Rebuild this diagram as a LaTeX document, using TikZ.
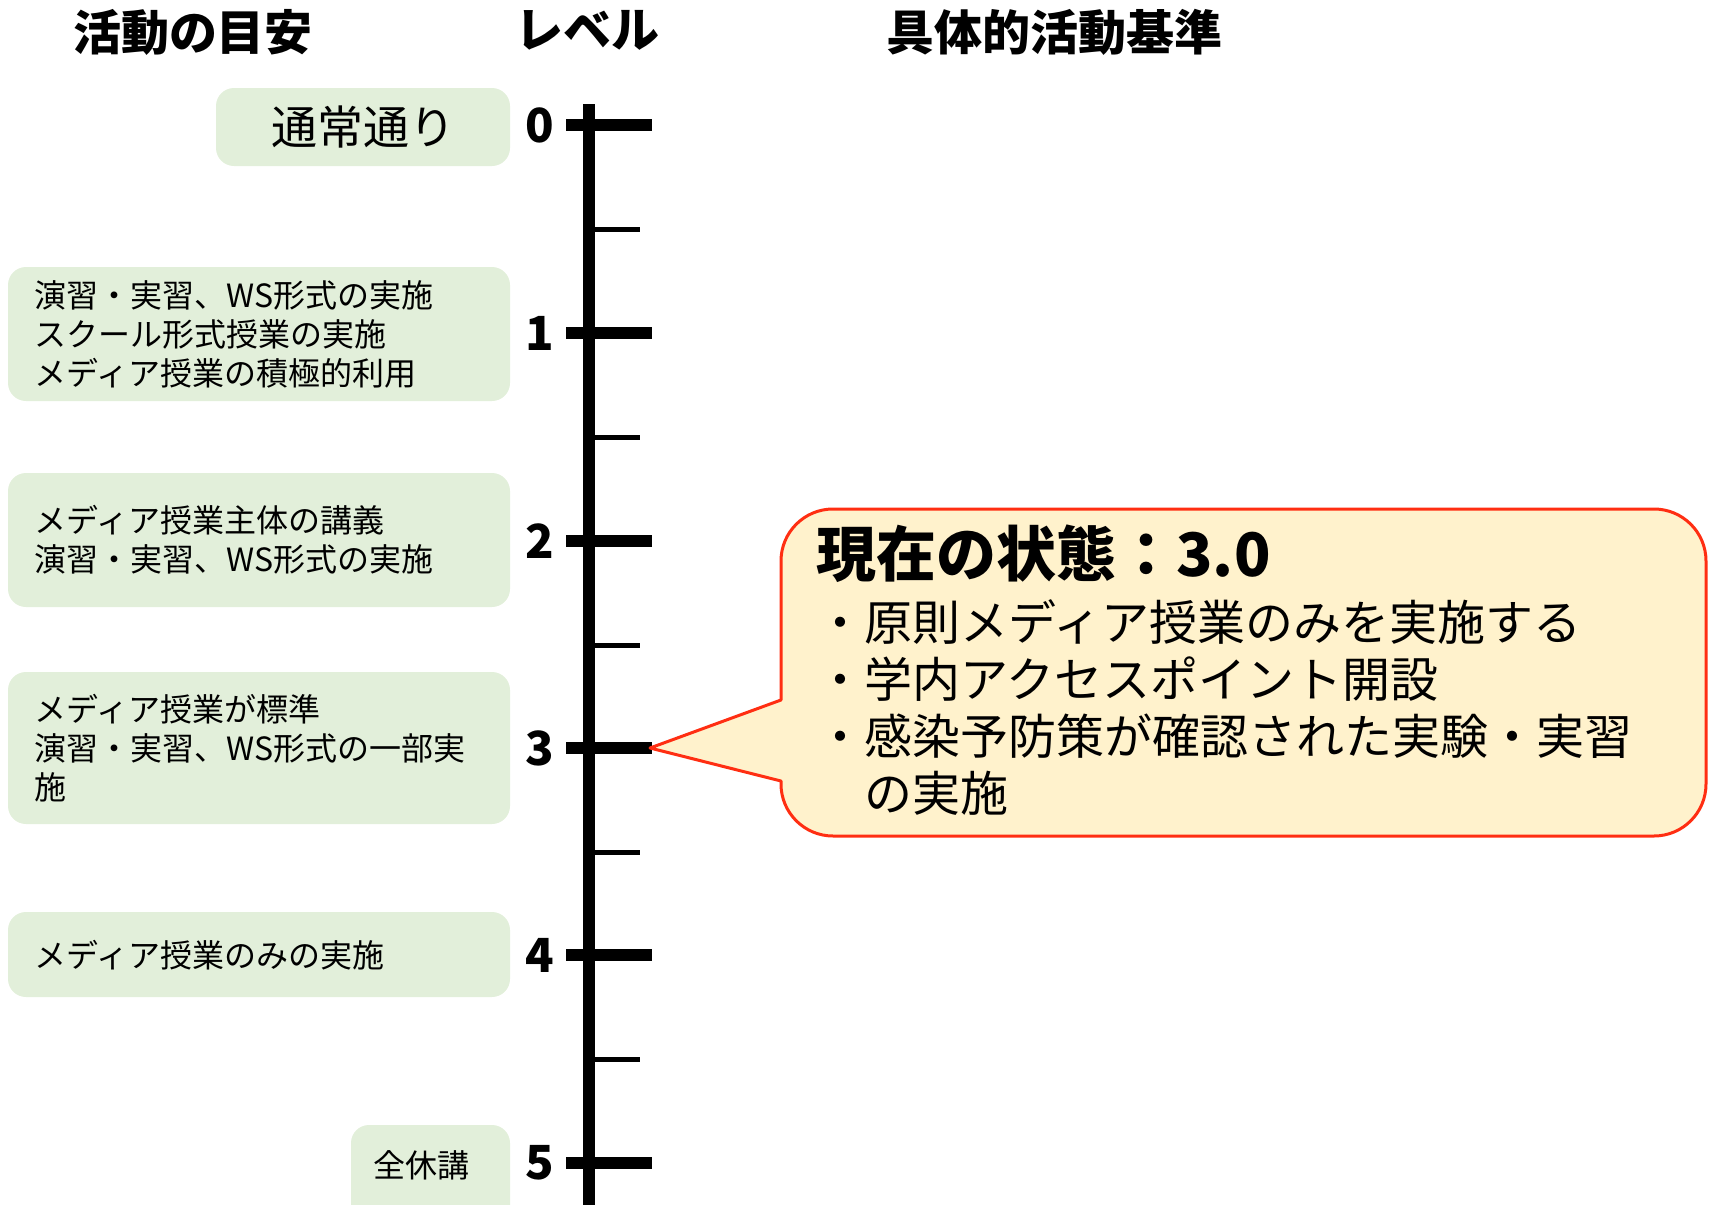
\documentclass[tikz,border=0pt]{standalone}
\usepackage{fontspec}
\setmainfont{Noto Sans CJK JP}
\usepackage{tikz}
\usetikzlibrary{calc}
\definecolor{boxgreen}{HTML}{E2EFDA}
\definecolor{notefill}{HTML}{FFF2CC}
\definecolor{notered}{HTML}{FF2E12}

\begin{document}
\begin{tikzpicture}[x=0.5pt, y=-0.5pt,
    greenbox/.style={fill=boxgreen, rounded corners=9pt},
    boxtext/.style={anchor=west, align=left, inner sep=0pt, font=\fontsize{16}{19.5}\selectfont},
    heading/.style={font=\fontsize{24}{28}\selectfont\bfseries},
    levelnum/.style={font=\fontsize{23.5}{26}\selectfont\bfseries},
    majortick/.style={line width=6pt},
    minortick/.style={line width=2.5pt},
    note/.style={fill=notefill, draw=notered, line width=1.5pt, line join=round}]
          \useasboundingbox (0,0) rectangle (1709,1205);
          \clip (0,0) rectangle (1709,1205);

          \node [heading] (headact) at (193,32) {活動の目安};
          \node [heading] (headlevel) at (587,30) {レベル};
          \node [heading] (headrule) at (1054,32) {具体的活動基準};

          \fill [greenbox] (216,88) rectangle (510,166) node [midway, font=\fontsize{23}{26}\selectfont] (usual) {通常通り}; % Draws a rectangle
          \fill [greenbox] (8,267) rectangle (510,401); % Draws a rectangle
          \node [boxtext] (act1) at (34,334) {演習・実習、WS形式の実施\\スクール形式授業の実施\\メディア授業の積極的利用};
          \fill [greenbox] (8,473) rectangle (510,607); % Draws a rectangle
          \node [boxtext] (act2) at (34,540) {メディア授業主体の講義\\演習・実習、WS形式の実施};
          \fill [greenbox] (8,672) rectangle (510,824); % Draws a rectangle
          \node [boxtext] (act3) at (34,748) {メディア授業が標準\\演習・実習、WS形式の一部実\\施};
          \fill [greenbox] (8,912) rectangle (510,997); % Draws a rectangle
          \node [boxtext] (act4) at (34,955) {メディア授業のみの実施};
          \fill [greenbox] (351,1125) rectangle (510,1230); % Draws a rectangle
          \node [font=\fontsize{16}{19.5}\selectfont] (act5) at (421,1165) {全休講};

          \draw [line width=6pt] (589,104) -- (589,1230);

          \draw [majortick] (566,125) -- (652,125);
          \draw [minortick] (589,229) -- (640,229);
          \draw [majortick] (566,333) -- (652,333);
          \draw [minortick] (589,437) -- (640,437);
          \draw [majortick] (566,541) -- (652,541);
          \draw [minortick] (589,645) -- (640,645);
          \draw [majortick] (566,748) -- (652,748);
          \draw [minortick] (589,852) -- (640,852);
          \draw [majortick] (566,955) -- (652,955);
          \draw [minortick] (589,1059) -- (640,1059);
          \draw [majortick] (566,1163) -- (652,1163);

          \node [levelnum] (lv0) at (540,125) {0};
          \node [levelnum] (lv1) at (540,333) {1};
          \node [levelnum] (lv2) at (540,541) {2};
          \node [levelnum] (lv3) at (540,748) {3};
          \node [levelnum] (lv4) at (540,955) {4};
          \node [levelnum] (lv5) at (540,1163) {5};

          \coordinate (tip3) at (650,748);
          \filldraw [note] (tip3) -- (781,700) -- (781,561)
            arc [start angle=180, end angle=270, radius=52] -- (1654,509)
            arc [start angle=270, end angle=360, radius=52] -- (1706,784)
            arc [start angle=0, end angle=90, radius=52] -- (833,836)
            arc [start angle=90, end angle=180, radius=52] -- (781,781) -- cycle;

          \node [anchor=west, inner sep=0pt, font=\fontsize{30}{34}\selectfont\bfseries] (state) at (816,554) {現在の状態：3.0};
          \node [anchor=west, align=left, inner sep=0pt, font=\fontsize{24}{28.5}\selectfont] (measures) at (816,708) {・原則メディア授業のみを実施する\\・学内アクセスポイント開設\\・感染予防策が確認された実験・実習\\\hspace*{1em}の実施};
        \end{tikzpicture}
\end{document}
